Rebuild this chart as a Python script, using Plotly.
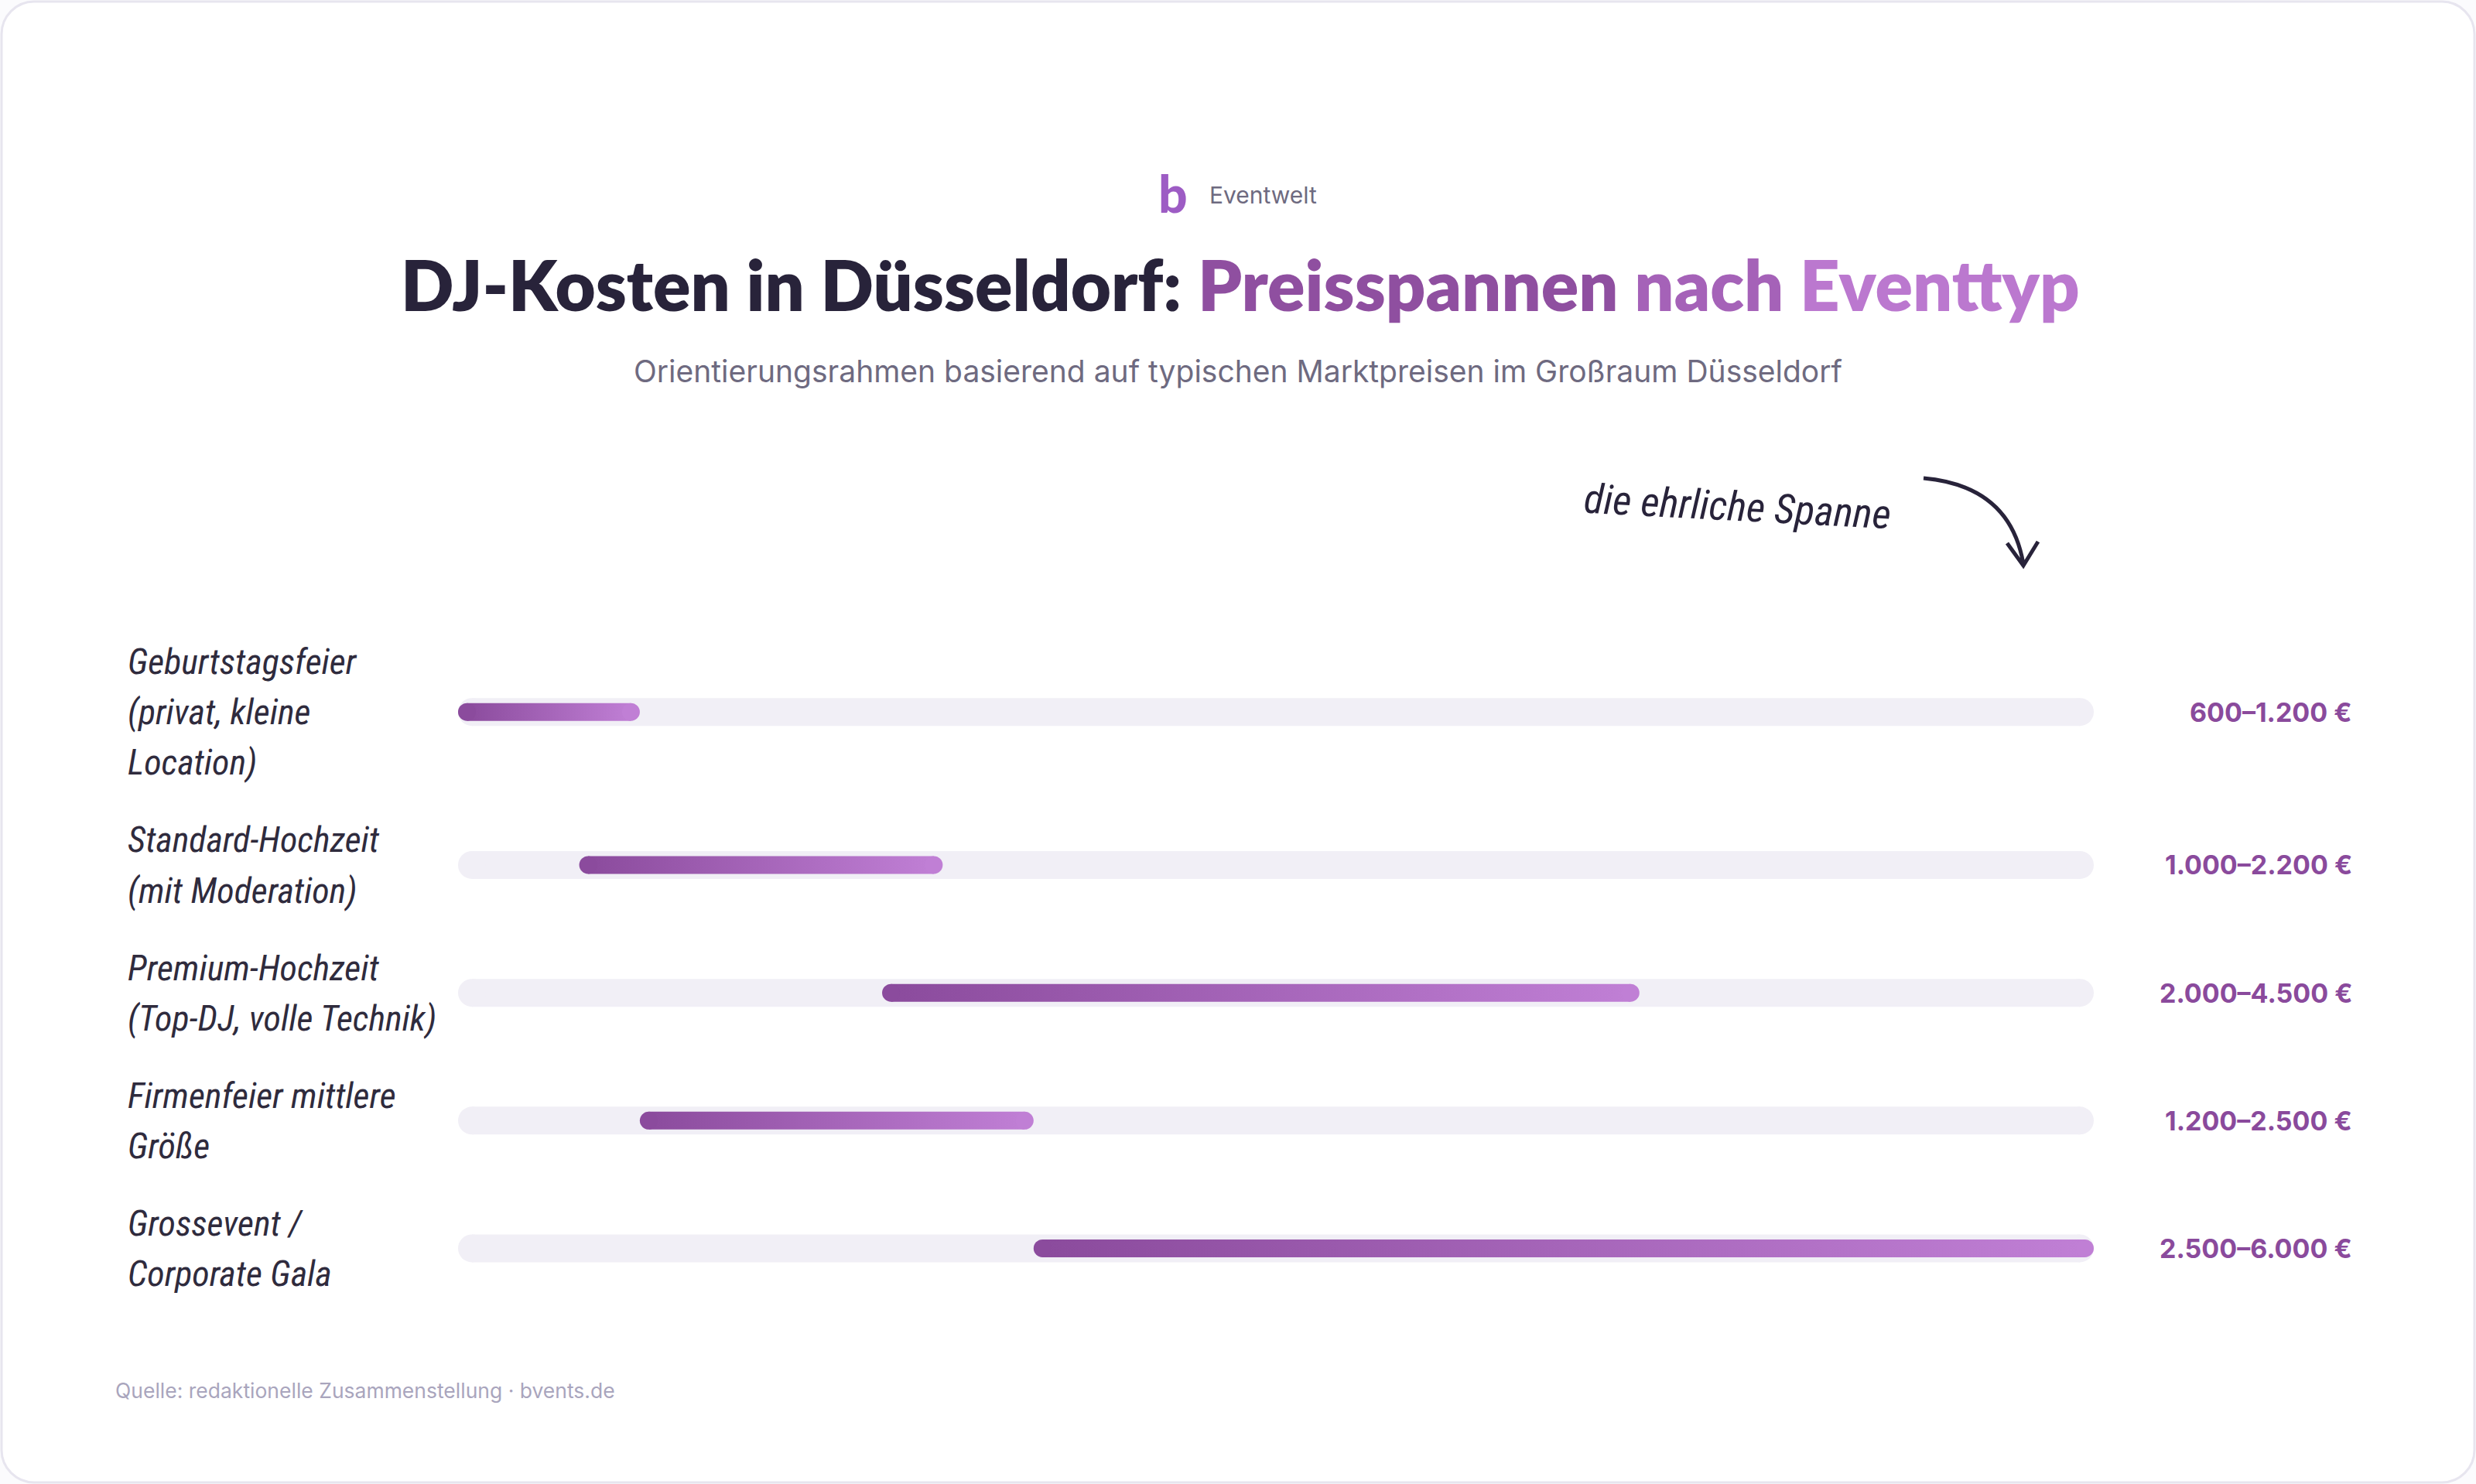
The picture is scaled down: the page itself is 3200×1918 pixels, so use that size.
import plotly.graph_objects as go

# ---------------- data ----------------
categories = [
    "Geburtstagsfeier<br>(privat, kleine<br>Location)",
    "Standard-Hochzeit<br>(mit Moderation)",
    "Premium-Hochzeit<br>(Top-DJ, volle Technik)",
    "Firmenfeier mittlere<br>Größe",
    "Grossevent /<br>Corporate Gala",
]
price_low = [600, 1000, 2000, 1200, 2500]
price_high = [1200, 2200, 4500, 2500, 6000]
scale_min = 600
scale_max = 6000

# ---------------- layout geometry (px) ----------------
W, H = 3200, 1918
ML, MR, MT, MB = 592, 494, 805, 222
PW, PH = W - ML - MR, H - MT - MB

TRACK_H = 36
BAR_H = 23
ROW_PAD = 0.53

C_DARK = "#28233a"
C_TRACK = "#f1eff6"
C_BAR0 = "#8b4b9d"
C_BAR1 = "#c07fd5"
C_VAL = "#8a4a9c"
HAND_FONT = "Liberation Sans Narrow, Roboto Condensed, Open Sans, sans-serif"


def fmt(v):
    return f"{v:,}".replace(",", ".")


value_labels = [f"{fmt(a)}–{fmt(b)} €" for a, b in zip(price_low, price_high)]

# row centres in "line" units (taller rows for labels with more lines)
n_lines = [c.count("<br>") + 1 for c in categories]
row_y = []
acc = 0.0
for n in n_lines:
    h = n + ROW_PAD
    row_y.append(acc + h / 2)
    acc += h
y_total = acc

px_per_x = PW / (scale_max - scale_min)
px_per_y = PH / y_total


def P(px, py):
    return f"{(px - ML) / PW:.5f},{1 - (py - MT) / PH:.5f}"


def px2paper_x(px):
    return (px - ML) / PW


def px2paper_y(py):
    return 1 - (py - MT) / PH


fig = go.Figure()

# tracks
for yc in row_y:
    r = TRACK_H / 2 / px_per_x
    xa, xb = scale_min + r, scale_max - r
    fig.add_trace(go.Scatter(
        x=[xa, xb], y=[yc, yc], mode="lines+markers",
        line=dict(color=C_TRACK, width=TRACK_H),
        marker=dict(color=C_TRACK, size=TRACK_H, line=dict(width=0)),
        hoverinfo="skip", showlegend=False,
    ))

# gradient bars
for lo, hi, yc in zip(price_low, price_high, row_y):
    r = BAR_H / 2 / px_per_x
    xa, xb = lo + r, hi - r
    hh = BAR_H / 2 / px_per_y
    fig.add_trace(go.Scatter(
        x=[xa, xb, xb, xa, xa], y=[yc - hh, yc - hh, yc + hh, yc + hh, yc - hh],
        mode="none", fill="toself",
        fillgradient=dict(type="horizontal", colorscale=[[0, C_BAR0], [1, C_BAR1]],
                          start=xa, stop=xb),
        hoverinfo="skip", showlegend=False,
    ))
    fig.add_trace(go.Scatter(
        x=[xa, xb], y=[yc, yc], mode="markers",
        marker=dict(color=[C_BAR0, C_BAR1], size=BAR_H, line=dict(width=0)),
        hoverinfo="skip", showlegend=False,
    ))

annotations = []
# category labels (left), one annotation per text line (1 y-unit = 1 line)
for cat, yc in zip(categories, row_y):
    parts = cat.split("<br>")
    n = len(parts)
    for i, line in enumerate(parts):
        annotations.append(dict(
            x=px2paper_x(163), xref="paper", y=yc + (i - (n - 1) / 2), yref="y",
            text=line, showarrow=False, xanchor="left", yanchor="middle", align="left",
            font=dict(family=HAND_FONT, size=46, color="#2f2b3d", style="italic"),
        ))
# value labels (right)
for lab, yc in zip(value_labels, row_y):
    annotations.append(dict(
        x=px2paper_x(3042), xref="paper", y=yc, yref="y",
        text=lab, showarrow=False, xanchor="right", yanchor="middle",
        font=dict(family="Inter, Lato, sans-serif", size=34, color=C_VAL, weight=700),
    ))

# header
annotations += [
    dict(x=px2paper_x(1516), y=px2paper_y(249), xref="paper", yref="paper",
         text="b", showarrow=False, xanchor="center", yanchor="middle",
         font=dict(family="Lato, sans-serif", size=66, color="#9d5cc4", weight=900)),
    dict(x=px2paper_x(1561), y=px2paper_y(252), xref="paper", yref="paper",
         text="Eventwelt", showarrow=False, xanchor="left", yanchor="middle",
         font=dict(family="Inter, sans-serif", size=30, color="#6e6a80")),
    dict(x=px2paper_x(1603), y=px2paper_y(367), xref="paper", yref="paper",
         text=("DJ-Kosten in Düsseldorf: "
               "<span style='color:#8f4fa0'>Preisspannen</span> "
               "<span style='color:#a562b8'>nach</span> "
               "<span style='color:#bb78cf'>Eventtyp</span>"),
         showarrow=False, xanchor="center", yanchor="middle",
         font=dict(family="Lato, sans-serif", size=90, color=C_DARK, weight=800)),
    dict(x=px2paper_x(1600), y=px2paper_y(479), xref="paper", yref="paper",
         text="Orientierungsrahmen basierend auf typischen Marktpreisen im Großraum Düsseldorf",
         showarrow=False, xanchor="center", yanchor="middle",
         font=dict(family="Inter, sans-serif", size=39, color="#6e6a80")),
    dict(x=px2paper_x(2245), y=px2paper_y(655), xref="paper", yref="paper",
         text="die ehrliche Spanne", showarrow=False, xanchor="center", yanchor="middle",
         textangle=3,
         font=dict(family=HAND_FONT, size=53, color=C_DARK, style="italic")),
    dict(x=px2paper_x(147), y=px2paper_y(1797), xref="paper", yref="paper",
         text="Quelle: redaktionelle Zusammenstellung · bvents.de",
         showarrow=False, xanchor="left", yanchor="middle",
         font=dict(family="Inter, sans-serif", size=26.5, color="#a9a5bd")),
]

# card with rounded corners
x0, y0, x1, y1, rr = 2, 2, 3198, 1916, 42
k = 0.45
card_path = (
    f"M {P(x0 + rr, y0)} L {P(x1 - rr, y0)} "
    f"C {P(x1 - rr * k, y0)} {P(x1, y0 + rr * k)} {P(x1, y0 + rr)} "
    f"L {P(x1, y1 - rr)} "
    f"C {P(x1, y1 - rr * k)} {P(x1 - rr * k, y1)} {P(x1 - rr, y1)} "
    f"L {P(x0 + rr, y1)} "
    f"C {P(x0 + rr * k, y1)} {P(x0, y1 - rr * k)} {P(x0, y1 - rr)} "
    f"L {P(x0, y0 + rr)} "
    f"C {P(x0, y0 + rr * k)} {P(x0 + rr * k, y0)} {P(x0 + rr, y0)} Z"
)
arrow_path = (
    f"M {P(2486, 618)} Q {P(2598, 628)} {P(2615, 729)} "
    f"M {P(2594, 702)} L {P(2615, 731)} L {P(2634, 700)}"
)
shapes = [
    dict(type="path", xref="paper", yref="paper", path=card_path, layer="below",
         fillcolor="white", line=dict(color="#e7e5ef", width=3)),
    dict(type="path", xref="paper", yref="paper", path=arrow_path,
         line=dict(color=C_DARK, width=5)),
]

fig.update_layout(
    width=W, height=H,
    margin=dict(l=ML, r=MR, t=MT, b=MB, pad=0),
    paper_bgcolor="#fbfbfd", plot_bgcolor="rgba(0,0,0,0)",
    xaxis=dict(range=[scale_min, scale_max], visible=False, fixedrange=True),
    yaxis=dict(range=[y_total, 0], visible=False, fixedrange=True),
    annotations=annotations, shapes=shapes, showlegend=False,
)

fig.write_html("out.html")
